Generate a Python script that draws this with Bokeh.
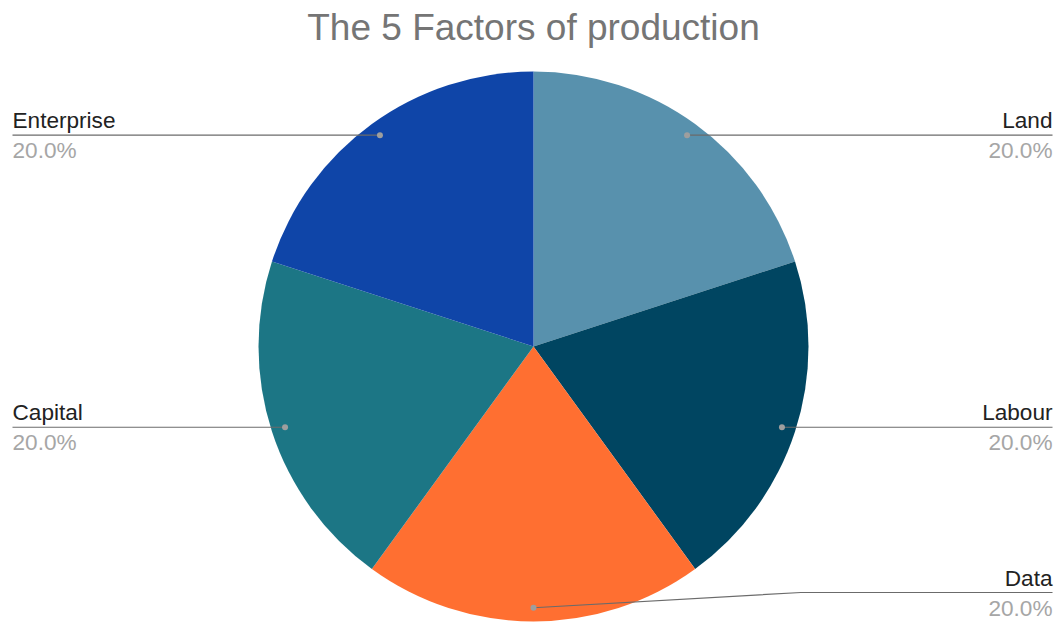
import math
from bokeh.plotting import figure
from bokeh.models import Range1d, ColumnDataSource
from bokeh.core.properties import value
from bokeh.embed import file_html
from bokeh.resources import INLINE

title_text = "The 5 Factors of production"
categories = ["Land", "Labour", "Data", "Capital", "Enterprise"]
values = [20, 20, 20, 20, 20]
colors = ["#5891AD", "#004561", "#FF6F31", "#1C7685", "#0F45A8"]

W, H = 1057, 624
cx, cy = 533, H - 346
R = 275
FONT = "Liberation Sans"

p = figure(width=W, height=H, output_backend="svg", toolbar_location=None,
           x_range=Range1d(0, W), y_range=Range1d(0, H), min_border=0)
p.axis.visible = False
p.grid.visible = False
p.outline_line_color = None
p.background_fill_color = "white"

total = sum(values)
starts, ends, mids = [], [], []
a = math.pi / 2
for v in values:
    sweep = 2 * math.pi * v / total
    starts.append(a - sweep)
    ends.append(a)
    mids.append(a - sweep / 2)
    a -= sweep

src = ColumnDataSource(dict(start=starts, end=ends, color=colors))
p.wedge(x=cx, y=cy, radius=R, start_angle="start", end_angle="end",
        fill_color="color", line_color=None, source=src)

# leaders and labels
margin_l, margin_r = 12, 1052
bottom_limit = 32
for name, v, m in zip(categories, values, mids):
    dx = cx + 0.95 * R * math.cos(m)
    dy = cy + 0.95 * R * math.sin(m)
    right = math.cos(m) >= -1e-9
    ly = max(dy, bottom_limit)
    end_x = margin_r if right else margin_l
    if abs(ly - dy) > 0.5:
        ex = (dx + end_x) / 2 + 8
        xs, ys = [dx, ex, end_x], [dy, ly, ly]
    else:
        xs, ys = [dx, end_x], [dy, ly]
    p.line(xs, ys, line_color="#6b6b6b", line_width=1.2)
    p.scatter([dx], [dy], size=6, fill_color="#9e9e9e", line_color=None)
    align = "right" if right else "left"
    p.text([end_x], [ly + 2], text=[name], text_align=align, text_baseline="bottom",
           text_font=value(FONT), text_font_size="22.6px", text_color="#222222")
    pct = f"{100 * v / total:.1f}%"
    p.text([end_x], [ly - 3], text=[pct], text_align=align, text_baseline="top",
           text_font=value(FONT), text_font_size="22.6px", text_color="#a6a6a6")

p.text([cx], [H - 27], text=[title_text], text_align="center", text_baseline="middle",
       text_font=value(FONT), text_font_size="37px", text_color="#757575")

open("out.html", "w").write(file_html(p, INLINE))
